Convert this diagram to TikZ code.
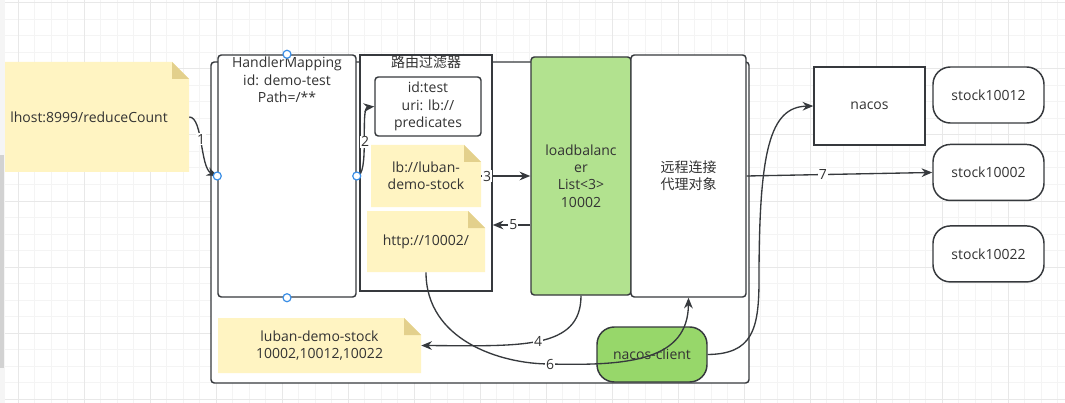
\documentclass[tikz,border=0pt]{standalone}
\usepackage{fontspec}
\setmainfont{Open Sans}
\newfontfamily\cjk{Noto Sans CJK SC}
\usetikzlibrary{arrows.meta,positioning}

\definecolor{edgegray}{HTML}{36393D}
\definecolor{textgray}{HTML}{333333}
\definecolor{notefill}{HTML}{FFF4C2}
\definecolor{notefold}{HTML}{E3D08C}
\definecolor{lbgreen}{HTML}{B2E28F}
\definecolor{clientgreen}{HTML}{97D76A}
\definecolor{handleblue}{HTML}{3A8EE6}
\definecolor{gridminor}{HTML}{F4F4F4}
\definecolor{gridmajor}{HTML}{E8E8E8}

\begin{document}
\begin{tikzpicture}[
  x=0.75pt, y=-0.75pt,
  font=\fontsize{10.5}{13}\selectfont,
  text=textgray,
  dims/.style 2 args={minimum width=#1*0.75pt, minimum height=#2*0.75pt},
  box/.style={rectangle, draw=edgegray, line width=1.1pt, fill=white, inner sep=0pt, align=center},
  rbox/.style={box, rounded corners=2.5pt},
  pill/.style={box, rounded corners=13pt},
  note/.style={rectangle, inner sep=0pt, align=center,
    path picture={
      \fill[notefill] (path picture bounding box.south west) -- (path picture bounding box.south east)
        -- ([yshift=-12.75pt]path picture bounding box.north east) -- ([xshift=-12.75pt]path picture bounding box.north east)
        -- (path picture bounding box.north west) -- cycle;
      \fill[notefold] ([xshift=-12.75pt]path picture bounding box.north east) -- ([xshift=-12.75pt,yshift=-12.75pt]path picture bounding box.north east)
        -- ([yshift=-12.75pt]path picture bounding box.north east) -- cycle;
    }},
  cjktext/.style={font=\cjk\fontsize{10.5}{13}\selectfont},
  arrow/.style={-{Stealth[length=8pt,width=6.5pt]}, line width=1pt, draw=edgegray},
  num/.style={fill=white, inner sep=0.8pt},
  handle/.style={circle, draw=handleblue, fill=white, line width=0.9pt, minimum size=6pt, inner sep=0pt}
]

% Canvas and grid
\fill[white] (0,0) rectangle (1065,403);
\useasboundingbox (0,0) rectangle (1065,403);
\foreach \gx in {1.5,18,...,1065} \draw[gridminor, line width=0.75pt] (\gx,0) -- (\gx,403);
\foreach \gy in {3,19.5,...,403} \draw[gridminor, line width=0.75pt] (0,\gy) -- (1065,\gy);
\foreach \gx in {18,84,...,1065} \draw[gridmajor, line width=0.75pt] (\gx,0) -- (\gx,403);
\foreach \gy in {3,69,...,403} \draw[gridmajor, line width=0.75pt] (0,\gy) -- (1065,\gy);

% Gateway container
\node[rbox, dims={538}{321}] (gw) at (480,222.5) {};

% Request
\node[note, dims={200}{110}] (req) at (89,117) {lhost:8999/reduceCount};

% HandlerMapping
\node[rbox, dims={138}{242}] (hm) at (287,176) {};
\node[below=1pt of hm.north, inner sep=1pt, align=center] (hmtxt) {HandlerMapping\\id: demo-test\\Path=/**};

% Route filter
\node[box, dims={132}{236}] (rf) at (426,173) {};
\node[below=0pt of rf.north, inner sep=1pt, cjktext] (rftxt) {路由过滤器};
\node[rbox, dims={106}{59}] (route) at (428,106.5) {id:test\\uri: lb://\\predicates};
\node[note, dims={110}{62}] (lbnote) at (426,176) {lb://luban-\\demo-stock};
\node[note, dims={118}{61}] (httpnote) at (426,241.5) {http://10002/};
\coordinate (ret) at (0,225);

% Load balancer and proxy
\node[rbox, fill=lbgreen, dims={100}{238}] (lb) at (581,176) {loadbalanc\\er\\List<3>\\10002};
\node[rbox, dims={115}{242}, cjktext] (proxy) at (688.5,176) {远程连接\\代理对象};

% Registry and services
\node[box, dims={111}{78}] (nacos) at (869.5,106) {nacos};
\node[pill, dims={111}{56}] (s12) at (988.5,95) {stock10012};
\node[pill, dims={111}{56}, below=15pt of s12] (s02) {stock10002};
\node[pill, dims={111}{56}, below=18pt of s02] (s22) {stock10022};

% Client side
\node[note, dims={203}{55}] (svcnote) at (319.5,345.5) {luban-demo-stock\\10002,10012,10022};
\node[pill, fill=clientgreen, dims={110}{55}] (client) at (652,354.5) {nacos-client};

% Connectors
\draw[arrow] (req.east) .. controls (203,117) and (200,168) .. node[num, pos=0.45] (n1) {1} (hm.west);
\draw[arrow] (hm.east) .. controls (370,176) and (360,108) .. node[num] (n2) {2} (route.west);
\draw[arrow] (lbnote.east) -- node[num, pos=0.12] (n3) {3} (lb.west);
\draw[arrow] (lb.south) .. controls (581,350) and (520,346) .. node[num] (n4) {4} (svcnote.east);
\draw[arrow] (lb.west |- ret) -- node[num, pos=0.45] (n5) {5} (rf.east |- ret);
\draw[arrow] (httpnote.south) .. controls (426,340) and (500,364) .. (550,364) node[num] (n6) {6}
  .. controls (630,366) and (688,360) .. (proxy.south);
\draw[arrow] (proxy.east) -- node[num, pos=0.41] (n7) {7} (s02.west);
\draw[arrow] (client.east) .. controls (752,354) and (759,330) .. (759,280)
  .. controls (759,150) and (770,107) .. (nacos.west);

% Selection handles
\node[handle] (hn) at (hm.north) {};
\node[handle] (hw) at (hm.west) {};
\node[handle] (he) at (hm.east) {};
\node[handle] (hs) at (hm.south) {};

% Window edge
\fill[gray!8] (0,0) rectangle (5,403);
\fill[gray!35] (0,155) rectangle (4,368);
\end{tikzpicture}
\end{document}
